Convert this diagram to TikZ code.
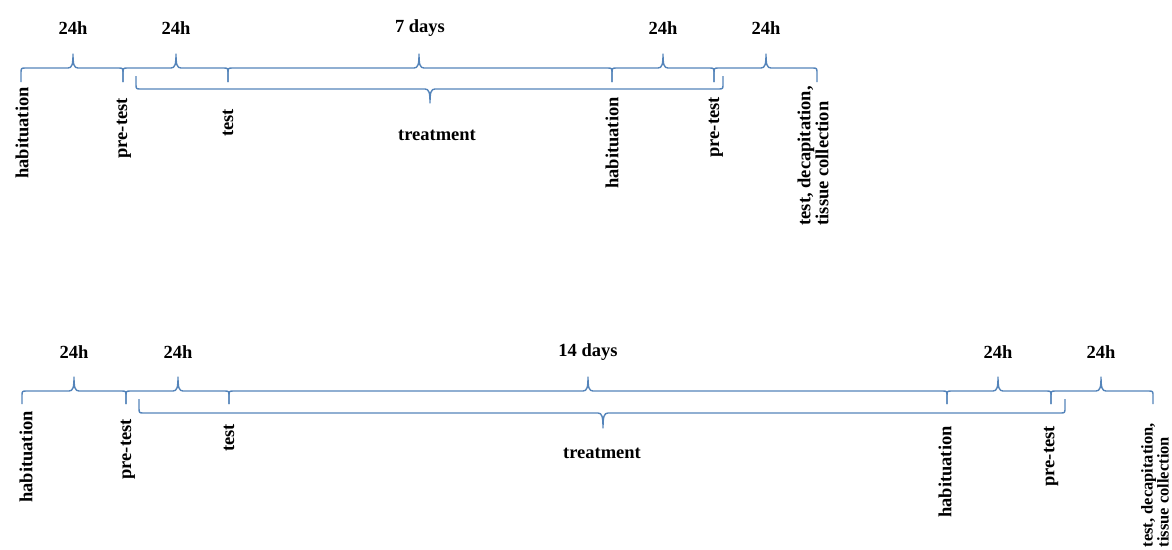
\documentclass[tikz,border=0pt]{standalone}
\usepackage{fontspec}
\setmainfont{Liberation Serif}
\definecolor{braceblue}{RGB}{84,132,186}
\tikzset{
  bracestyle/.style={draw=braceblue, line width=1.4pt, line join=round},
  lab/.style={font=\fontsize{18.5}{18}\selectfont\bfseries, inner sep=0pt, text=black},
  vlab/.style={lab, rotate=90, anchor=east},
}
\newcommand{\tlbrace}[6]{%
  \draw[bracestyle] ({#1},{#4+(#5)}) -- ({#1},{#4+0.4*(#5)}) .. controls ({#1},{#4}) .. ({#1+5},{#4})
    -- ({#3-5},{#4}) .. controls ({#3-1},{#4}) and ({#3},{#4+0.25*(#6)}) .. ({#3},{#4+(#6)})
    .. controls ({#3},{#4+0.25*(#6)}) and ({#3+1},{#4}) .. ({#3+5},{#4})
    -- ({#2-5},{#4}) .. controls ({#2},{#4}) .. ({#2},{#4+0.4*(#5)}) -- ({#2},{#4+(#5)});}
\begin{document}
\begin{tikzpicture}[x={(1pt,0)}, y={(0,-1pt)}]
\useasboundingbox (0,0) rectangle (1172,549);
% ---------- top timeline ----------
\tlbrace{21}{123}{73}{68}{14}{-14}
\tlbrace{123}{228}{176}{68}{14}{-14}
\tlbrace{228}{612}{419}{68}{14}{-14}
\tlbrace{612}{714}{663}{68}{14}{-14}
\tlbrace{714}{817}{766}{68}{14}{-14}
\tlbrace{136}{723}{430}{89}{-13}{14}
\node[lab] (t1) at (73,28) {24h};
\node[lab] (t2) at (176,28) {24h};
\node[lab] (t3) at (420,28) {7 days};
\node[lab] (t4) at (663,28) {24h};
\node[lab] (t5) at (766,28) {24h};
\node[lab] (ttreat) at (437,135) {treatment};
\node[vlab] (th1) at (22,87) {habituation};
\node[vlab] (tp1) at (124,98) {pre-test};
\node[vlab] (tt1) at (228,109) {test};
\node[vlab] (th2) at (612,97) {habituation};
\node[vlab] (tp2) at (716,97) {pre-test};
\node[vlab, align=left] (tend) at (813,86) {test, decapitation,\\tissue collection};
% ---------- bottom timeline ----------
\tlbrace{22}{126}{74}{391}{13}{-14}
\tlbrace{126}{229}{178}{391}{13}{-14}
\tlbrace{229}{947}{588}{391}{13}{-14}
\tlbrace{947}{1051}{998}{391}{13}{-14}
\tlbrace{1051}{1153}{1101}{391}{13}{-14}
\tlbrace{139}{1065}{603}{413}{-14}{15}
\node[lab] (b1) at (74,352) {24h};
\node[lab] (b2) at (178,352) {24h};
\node[lab] (b3) at (588,352) {14 days};
\node[lab] (b4) at (998,352) {24h};
\node[lab] (b5) at (1101,352) {24h};
\node[lab] (btreat) at (602,453) {treatment};
\node[vlab] (bh1) at (26,411) {habituation};
\node[vlab] (bp1) at (128,419) {pre-test};
\node[vlab] (bt1) at (229,424) {test};
\node[vlab] (bh2) at (945,426) {habituation};
\node[vlab] (bp2) at (1051,426) {pre-test};
\node[vlab, align=left, font=\fontsize{16.5}{16}\selectfont\bfseries] (bend) at (1155,423) {test, decapitation,\\tissue collection};
\end{tikzpicture}
\end{document}
